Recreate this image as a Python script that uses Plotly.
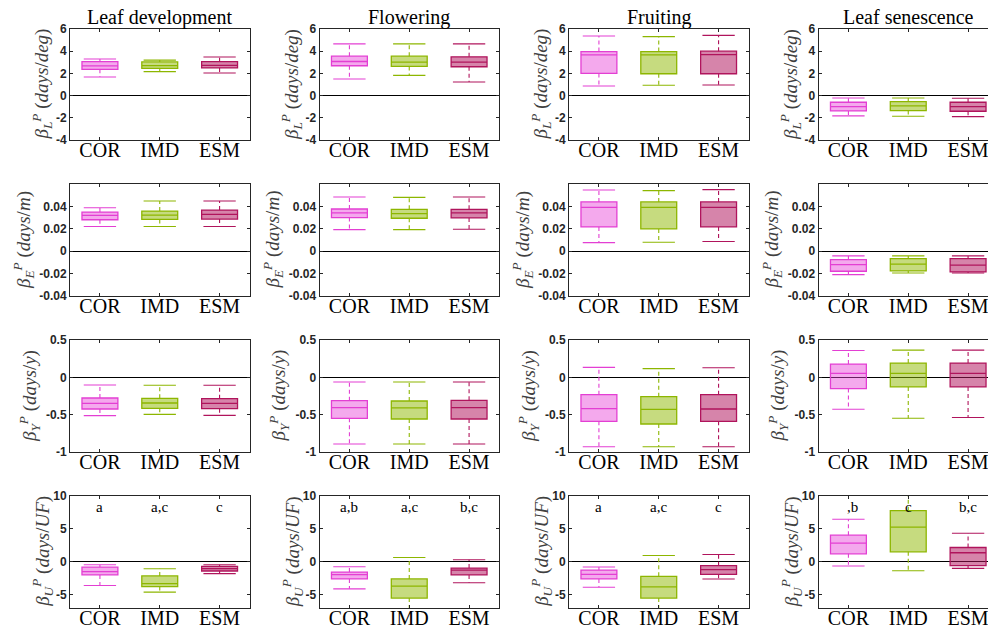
import plotly.graph_objects as go

W, H = 996, 634
OFF = 8  # the page body adds an 8px margin; compensate so the picture lines up

models = ["COR", "IMD", "ESM"]
stages = ["Leaf development", "Flowering", "Fruiting", "Leaf senescence"]

# ---- Row L (days/deg): per stage -> [COR, IMD, ESM]
L_low  = [[1.68, 2.16, 2.04], [1.49, 1.82, 1.22], [0.87, 0.93, 0.96], [-1.83, -1.86, -1.89]]
L_q1   = [[2.37, 2.46, 2.49], [2.69, 2.63, 2.60], [2.00, 1.97, 1.97], [-1.38, -1.35, -1.41]]
L_med  = [[2.67, 2.70, 2.73], [3.07, 3.01, 3.01], [3.67, 3.67, 3.70], [-0.99, -0.93, -0.99]]
L_q3   = [[3.06, 3.03, 3.06], [3.55, 3.55, 3.49], [3.97, 3.97, 4.00], [-0.60, -0.54, -0.60]]
L_high = [[3.30, 3.20, 3.48], [4.66, 4.66, 4.66], [5.37, 5.31, 5.43], [-0.21, -0.21, -0.24]]

# ---- Row E (days/m)
E_low  = [[0.0221, 0.0221, 0.0221], [0.0193, 0.0193, 0.0196], [0.0077, 0.0080, 0.0086], [-0.0209, -0.0194, -0.0194]]
E_q1   = [[0.0281, 0.0284, 0.0287], [0.0300, 0.0294, 0.0297], [0.0217, 0.0199, 0.0217], [-0.0179, -0.0176, -0.0185]]
E_med  = [[0.0319, 0.0322, 0.0328], [0.0342, 0.0336, 0.0342], [0.0392, 0.0392, 0.0392], [-0.0119, -0.0116, -0.0125]]
E_q3   = [[0.0349, 0.0358, 0.0367], [0.0377, 0.0374, 0.0374], [0.0440, 0.0440, 0.0440], [-0.0075, -0.0066, -0.0066]]
E_high = [[0.0388, 0.0448, 0.0448], [0.0484, 0.0481, 0.0484], [0.0547, 0.0541, 0.0550], [-0.0042, -0.0042, -0.0042]]

# ---- Row Y (days/y)
Y_low  = [[-0.513, -0.496, -0.509], [-0.893, -0.893, -0.893], [-0.929, -0.929, -0.929], [-0.427, -0.547, -0.538]]
Y_q1   = [[-0.424, -0.415, -0.420], [-0.549, -0.558, -0.558], [-0.589, -0.625, -0.589], [-0.151, -0.129, -0.129]]
Y_med  = [[-0.348, -0.344, -0.348], [-0.406, -0.410, -0.406], [-0.420, -0.429, -0.424], [0.053, 0.053, 0.053]]
Y_q3   = [[-0.277, -0.281, -0.286], [-0.313, -0.317, -0.308], [-0.232, -0.259, -0.232], [0.178, 0.191, 0.191]]
Y_high = [[-0.103, -0.107, -0.107], [-0.063, -0.063, -0.063], [0.134, 0.116, 0.129], [0.360, 0.364, 0.364]]

# ---- Row U (days/UF)
U_low  = [[-3.6, -4.6, -1.8], [-4.1, -8.0, -3.17], [-3.87, -8.0, -2.6], [-0.65, -1.36, -1.0]]
U_q1   = [[-2.0, -3.75, -1.4], [-2.6, -5.5, -2.0], [-2.6, -5.5, -1.9], [1.2, 1.5, -0.6]]
U_med  = [[-1.5, -3.3, -1.05], [-1.96, -3.7, -1.26], [-1.9, -3.8, -1.2], [2.81, 5.23, 1.36]]
U_q3   = [[-0.8, -2.15, -0.7], [-1.56, -2.6, -0.95], [-1.26, -2.2, -0.6], [4.02, 7.74, 2.16]]
U_high = [[-0.45, -1.05, -0.45], [-0.75, 0.65, 0.3], [-0.8, 0.95, 1.1], [6.43, 11.0, 4.32]]

U_letters = [["a", "a,c", "c"], ["a,b", "a,c", "b,c"], ["a", "a,c", "c"], [",b", "c", "b,c"]]
letter_y = 8.3

# ---- axis settings per row
row_ranges = [[-4, 6], [-0.04, 0.06], [-1, 0.5], [-7, 10]]
row_tickvals = [[-4, -2, 0, 2, 4, 6], [-0.04, -0.02, 0, 0.02, 0.04], [-1, -0.5, 0, 0.5], [-5, 0, 5, 10]]
row_ticktext = [["-4", "-2", "0", "2", "4", "6"], ["-0.04", "-0.02", "0", "0.02", "0.04"],
                ["-1", "-0.5", "0", "0.5"], ["-5", "0", "5", "10"]]
row_labels = [
    "<i>β</i><sub><i>L</i></sub><sup><i>P</i></sup> (<i>days</i>/<i>deg</i>)",
    "<i>β</i><sub><i>E</i></sub><sup><i>P</i></sup> (<i>days</i>/<i>m</i>)",
    "<i>β</i><sub><i>Y</i></sub><sup><i>P</i></sup> (<i>days</i>/<i>y</i>)",
    "<i>β</i><sub><i>U</i></sub><sup><i>P</i></sup> (<i>days</i>/<i>UF</i>)",
]
label_gap = [28, 46, 41, 27]

line_colors = ["#E33FD3", "#8DB600", "#B0145C"]
fill_colors = ["rgba(230,64,214,0.45)", "rgba(141,184,0,0.5)", "rgba(176,20,92,0.52)"]

rows_data = [
    (L_low, L_q1, L_med, L_q3, L_high),
    (E_low, E_q1, E_med, E_q3, E_high),
    (Y_low, Y_q1, Y_med, Y_q3, Y_high),
    (U_low, U_q1, U_med, U_q3, U_high),
]

# layout geometry (pixels in the picture)
col_left = [70, 319.5, 569, 818.5]
col_w = 179.5
row_top = [29, 184, 340, 495.7]
row_bot = [140, 296, 452, 608]


def fx(px):
    return (px - OFF) / W


def fy(py):
    return 1 - (py - OFF) / H


SERIF = "Liberation Serif"
SANS = "Liberation Sans"
AX = "#262626"

fig = go.Figure()
layout = {}
annotations = []
cap_half = 0.27

for r in range(4):
    low, q1, med, q3, high = rows_data[r]
    for c in range(4):
        k = r * 4 + c + 1
        xa = "x" if k == 1 else f"x{k}"
        ya = "y" if k == 1 else f"y{k}"
        for m in range(3):
            pos = m + 1
            fig.add_trace(go.Box(
                x=[pos], q1=[q1[c][m]], median=[med[c][m]], q3=[q3[c][m]],
                lowerfence=[q1[c][m]], upperfence=[q3[c][m]],
                width=0.6, whiskerwidth=0, boxpoints=False,
                fillcolor=fill_colors[m], line=dict(color=line_colors[m], width=1.3),
                xaxis=xa, yaxis=ya, showlegend=False, hoverinfo="skip"))
            # dashed whiskers
            fig.add_trace(go.Scatter(
                x=[pos, pos, None, pos, pos],
                y=[q3[c][m], high[c][m], None, q1[c][m], low[c][m]],
                mode="lines", line=dict(color=line_colors[m], width=1.1, dash="4px,3px"),
                xaxis=xa, yaxis=ya, showlegend=False, hoverinfo="skip"))
            # caps
            fig.add_trace(go.Scatter(
                x=[pos - cap_half, pos + cap_half, None, pos - cap_half, pos + cap_half],
                y=[high[c][m], high[c][m], None, low[c][m], low[c][m]],
                mode="lines", line=dict(color=line_colors[m], width=1.1),
                xaxis=xa, yaxis=ya, showlegend=False, hoverinfo="skip"))

        left = col_left[c]
        right = left + col_w
        layout["xaxis" if k == 1 else f"xaxis{k}"] = dict(
            domain=[fx(left), fx(right)], anchor=ya, automargin=False,
            range=[0.5, 3.5], tickvals=[1, 2, 3], ticktext=models,
            ticks="inside", ticklen=3, tickcolor=AX, mirror="ticks",
            showline=True, linecolor=AX, linewidth=1, showgrid=False, zeroline=False,
            ticklabelstandoff=-8,
            tickfont=dict(family=SERIF, size=20, color="black"))
        layout["yaxis" if k == 1 else f"yaxis{k}"] = dict(
            domain=[fy(row_bot[r]), fy(row_top[r])], anchor=xa, automargin=False,
            range=row_ranges[r], tickvals=row_tickvals[r], ticktext=row_ticktext[r],
            ticks="inside", ticklen=3, tickcolor=AX, mirror="ticks",
            showline=True, linecolor=AX, linewidth=1, showgrid=False,
            zeroline=True, zerolinecolor="black", zerolinewidth=1,
            tickfont=dict(family=SANS, size=12, color=AX, weight="bold"))

        # y-axis label
        annotations.append(dict(
            text=row_labels[r], xref="paper", yref="paper",
            x=fx(left - label_gap[r]), y=fy((row_top[r] + row_bot[r]) / 2),
            xanchor="center", yanchor="middle", textangle=-90, showarrow=False,
            font=dict(family=SERIF, size=19, color="#404040")))

        if r == 0:
            annotations.append(dict(
                text=stages[c], xref="paper", yref="paper",
                x=fx(col_left[c] + col_w / 2), y=fy(17),
                xanchor="center", yanchor="middle", showarrow=False, borderpad=0,
                font=dict(family=SERIF, size=20, color="black")))
        if r == 3:
            for m in range(3):
                annotations.append(dict(
                    text=U_letters[c][m], xref=xa, yref=ya, x=m + 1, y=letter_y,
                    xanchor="center", yanchor="middle", showarrow=False,
                    xshift=4 if U_letters[c][m].startswith(",") else 0,
                    font=dict(family=SERIF, size=15, color="black")))

fig.update_layout(
    template="none",
    width=W, height=H, margin=dict(l=0, r=0, t=0, b=0, autoexpand=False),
    paper_bgcolor="white", plot_bgcolor="white",
    annotations=annotations, **layout)

fig.write_html("out.html")
